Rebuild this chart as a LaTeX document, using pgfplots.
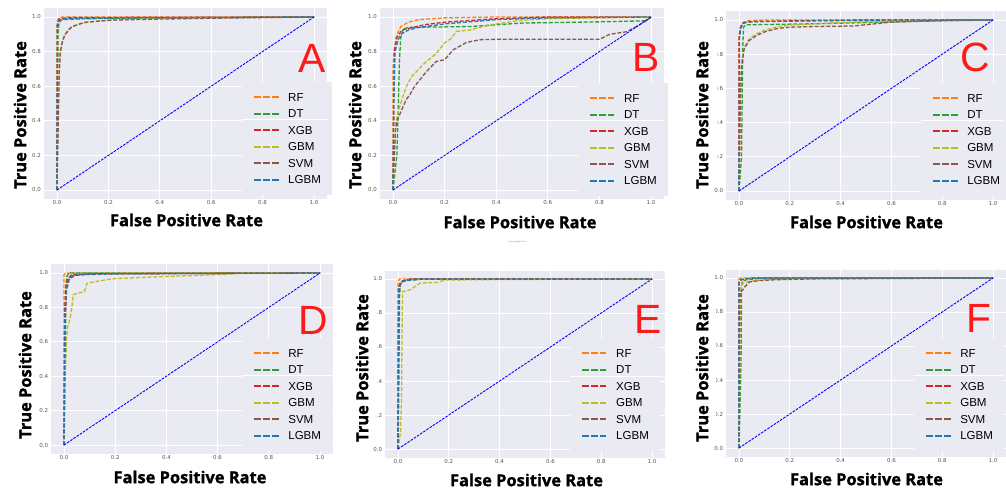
\documentclass[border=0pt]{standalone}
\usepackage{pgfplots}
\pgfplotsset{compat=1.18}
\usepackage{fontspec}
\newfontfamily\labfont{Open Sans}[BoldFeatures={FakeBold=1.3}]
\newfontfamily\legfont{Liberation Sans}
\newfontfamily\tickfont{DejaVu Sans}

\definecolor{cRF}{HTML}{FF7F0E}
\definecolor{cDT}{HTML}{2CA02C}
\definecolor{cXGB}{HTML}{D62728}
\definecolor{cGBM}{HTML}{BCBD22}
\definecolor{cSVM}{HTML}{8C564B}
\definecolor{cLGBM}{HTML}{1F77B4}
\definecolor{axbg}{HTML}{EAEAF2}
\definecolor{tickgray}{HTML}{555555}
\definecolor{letred}{HTML}{FF1A1A}

\pgfplotsset{
  roc/.style={
    scale only axis, anchor=origin,
    xmin=-0.05, xmax=1.05, ymin=-0.05, ymax=1.05,
    axis background/.style={fill=axbg},
    axis line style={draw=none},
    grid=major, major grid style={white, line width=0.9bp},
    major tick length=0pt,
    xtick={0,0.2,0.4,0.6,0.8,1}, ytick={0,0.2,0.4,0.6,0.8,1},
    ticklabel style={font=\tickfont\fontsize{5.5}{6}\selectfont, text=tickgray},
    xticklabel style={inner sep=0pt, yshift=-1.8bp},
    yticklabel style={inner sep=0pt, xshift=-3bp},
    /pgf/number format/.cd, fixed, fixed zerofill, precision=1, assume math mode=true,
    /pgfplots/.cd,
    legend entries={RF,DT,XGB,GBM,SVM,LGBM},
    legend cell align=left,
    legend style={anchor=north west, draw=none, fill=axbg,
      inner xsep=11bp, inner ysep=10.8bp, row sep=8.2bp,
      font=\legfont\fontsize{11.6}{12}\selectfont,
      nodes={inner sep=0pt, text height=8.3bp, text depth=0pt},
      /tikz/every odd column/.append style={column sep=8bp}},
    legend image code/.code={
      \draw[##1, line width=2bp, dash pattern=on 6.5bp off 2.4bp] (0bp,0bp) -- (25bp,0bp);},
  },
  crv/.style={line width=1.3bp, dash pattern=on 4bp off 1.8bp},
  rf/.style={crv, cRF}, dt/.style={crv, cDT}, xgb/.style={crv, cXGB},
  gbm/.style={crv, cGBM}, svm/.style={crv, cSVM}, lgbm/.style={crv, cLGBM},
  diag/.style={blue, line width=0.9bp, dash pattern=on 2.6bp off 1.2bp, forget plot},
}

\begin{document}
\begin{tikzpicture}
\useasboundingbox (0,0) rectangle (1006bp,-490bp);

% ---- A ----
\begin{axis}[roc, at={(57bp,-190bp)}, width=282.7bp, height=190.3bp,
  legend style={at={(axis description cs:0.700,0.613)}}]
\addplot[rf] coordinates {(0,0)(0,0.97)(0.005,0.99)(0.02,1)(1,1)};
\addplot[dt] coordinates {(0,0)(0.004,0.9)(0.008,0.97)(0.02,0.985)(0.1,0.99)(0.4,0.995)(1,1)};
\addplot[xgb] coordinates {(0,0)(0.002,0.96)(0.01,0.99)(0.05,0.997)(1,1)};
\addplot[gbm] coordinates {(0,0)(0.004,0.45)(0.008,0.7)(0.012,0.8)(0.02,0.86)(0.03,0.9)(0.045,0.93)(0.07,0.95)(0.1,0.965)(0.15,0.975)(0.25,0.985)(0.5,0.995)(1,1)};
\addplot[svm] coordinates {(0,0)(0.005,0.4)(0.009,0.68)(0.013,0.79)(0.02,0.85)(0.03,0.895)(0.057,0.944)(0.11,0.97)(0.21,0.982)(0.4,0.988)(0.7,0.995)(1,1)};
\addplot[lgbm] coordinates {(0,0)(0.001,0.95)(0.008,0.98)(0.03,0.99)(0.3,0.995)(1,1)};
\addplot[diag] coordinates {(0,0)(1,1)};
\end{axis}

% ---- B ----
\begin{axis}[roc, at={(393bp,-190bp)}, width=283.8bp, height=190.3bp,
  legend style={at={(axis description cs:0.697,0.608)}}]
\addplot[rf] coordinates {(0,0)(0,0.7)(0.005,0.82)(0.013,0.89)(0.03,0.945)(0.06,0.97)(0.1,0.985)(0.2,0.995)(0.4,1)(1,1)};
\addplot[dt] coordinates {(0,0)(0.015,0.2)(0.02,0.45)(0.025,0.75)(0.03,0.88)(0.04,0.93)(0.06,0.94)(0.3,0.945)(0.4,0.955)(0.5,0.965)(0.8,0.972)(0.98,0.978)(1,1)};
\addplot[xgb] coordinates {(0,0)(0.005,0.8)(0.015,0.88)(0.034,0.925)(0.078,0.94)(0.12,0.955)(0.2,0.97)(0.4,0.99)(0.6,1)(1,1)};
\addplot[gbm] coordinates {(0,0)(0.005,0.2)(0.01,0.38)(0.02,0.45)(0.04,0.55)(0.058,0.618)(0.075,0.66)(0.091,0.685)(0.12,0.73)(0.168,0.79)(0.2,0.85)(0.225,0.875)(0.246,0.917)(0.3,0.925)(0.324,0.936)(0.4,0.96)(0.49,0.98)(0.6,0.99)(0.8,0.995)(1,1)};
\addplot[svm] coordinates {(0,0)(0.005,0.2)(0.01,0.35)(0.015,0.4)(0.03,0.45)(0.05,0.52)(0.065,0.55)(0.084,0.6)(0.13,0.685)(0.168,0.743)(0.2,0.753)(0.233,0.81)(0.285,0.853)(0.337,0.869)(0.4,0.871)(0.8,0.871)(0.84,0.9)(0.906,0.915)(0.95,0.95)(0.983,0.98)(1,1)};
\addplot[lgbm] coordinates {(0,0)(0.003,0.5)(0.008,0.8)(0.02,0.87)(0.035,0.905)(0.06,0.925)(0.1,0.94)(0.2,0.96)(0.4,0.985)(0.6,0.995)(1,1)};
\addplot[diag] coordinates {(0,0)(1,1)};
\end{axis}

% ---- C ----
\begin{axis}[roc, at={(739bp,-191bp)}, width=279.4bp, height=188.1bp,
  legend style={at={(axis description cs:0.697,0.620)}}]
\addplot[rf] coordinates {(0,0)(0,0.9)(0.005,0.96)(0.015,0.985)(0.03,0.995)(0.1,1)(1,1)};
\addplot[dt] coordinates {(0,0)(0.01,0.2)(0.013,0.6)(0.015,0.85)(0.018,0.96)(0.03,0.972)(0.3,0.978)(0.5,0.985)(0.8,0.995)(1,1)};
\addplot[xgb] coordinates {(0,0)(0,0.88)(0.005,0.95)(0.015,0.98)(0.04,0.99)(0.2,0.995)(0.5,1)(1,1)};
\addplot[gbm] coordinates {(0,0)(0.005,0.5)(0.01,0.75)(0.02,0.84)(0.04,0.89)(0.07,0.92)(0.1,0.94)(0.15,0.96)(0.2,0.97)(0.3,0.978)(0.5,0.99)(0.7,0.995)(1,1)};
\addplot[svm] coordinates {(0,0)(0.005,0.5)(0.01,0.72)(0.02,0.83)(0.04,0.88)(0.07,0.91)(0.1,0.93)(0.15,0.95)(0.2,0.958)(0.3,0.962)(0.45,0.965)(0.55,0.98)(0.6,0.988)(0.85,1)(1,1)};
\addplot[lgbm] coordinates {(0,0)(0.002,0.9)(0.008,0.96)(0.02,0.985)(0.05,0.99)(0.3,0.995)(0.6,1)(1,1)};
\addplot[diag] coordinates {(0,0)(1,1)};
\end{axis}

% ---- D ----
\begin{axis}[roc, at={(64bp,-445bp)}, width=281.6bp, height=189.2bp,
  legend style={at={(axis description cs:0.678,0.611)}}]
\addplot[rf] coordinates {(0,0)(0,0.99)(0.005,1)(1,1)};
\addplot[dt] coordinates {(0,0)(0.005,0.5)(0.008,0.9)(0.01,0.98)(0.02,1)(1,1)};
\addplot[xgb] coordinates {(0,0)(0.003,0.8)(0.008,0.93)(0.015,0.97)(0.03,0.99)(0.1,0.995)(1,1)};
\addplot[gbm] coordinates {(0,0)(0.005,0.4)(0.01,0.62)(0.015,0.69)(0.023,0.73)(0.03,0.79)(0.036,0.874)(0.08,0.893)(0.09,0.94)(0.115,0.948)(0.19,0.967)(0.4,0.98)(0.5,0.985)(0.66,0.995)(0.7,1)(1,1)};
\addplot[svm] coordinates {(0,0)(0.005,0.75)(0.01,0.9)(0.02,0.96)(0.04,0.985)(0.1,0.995)(1,1)};
\addplot[lgbm] coordinates {(0,0)(0.003,0.7)(0.008,0.9)(0.015,0.96)(0.03,0.985)(0.06,0.99)(0.2,0.995)(1,1)};
\addplot[diag] coordinates {(0,0)(1,1)};
\end{axis}

% ---- E ----
\begin{axis}[roc, at={(398bp,-449bp)}, width=279.4bp, height=187bp,
  legend style={at={(axis description cs:0.661,0.639)}}]
\addplot[rf] coordinates {(0,0)(0,0.98)(0.005,1)(1,1)};
\addplot[dt] coordinates {(0,0)(0.003,0.3)(0.006,0.9)(0.01,0.98)(0.02,0.99)(0.1,1)(1,1)};
\addplot[xgb] coordinates {(0,0)(0.003,0.95)(0.01,0.98)(0.02,0.99)(0.05,1)(1,1)};
\addplot[gbm] coordinates {(0,0)(0.01,0.1)(0.014,0.3)(0.016,0.7)(0.018,0.925)(0.03,0.93)(0.049,0.937)(0.07,0.96)(0.088,0.976)(0.154,0.98)(0.186,0.994)(0.4,0.997)(1,1)};
\addplot[svm] coordinates {(0,0)(0.003,0.9)(0.01,0.97)(0.02,0.985)(0.05,1)(1,1)};
\addplot[lgbm] coordinates {(0,0)(0.002,0.95)(0.01,0.98)(0.03,0.99)(0.1,1)(1,1)};
\addplot[diag] coordinates {(0,0)(1,1)};
\end{axis}

% ---- F ----
\begin{axis}[roc, at={(739bp,-448bp)}, width=279.4bp, height=187bp,
  legend style={at={(axis description cs:0.672,0.634)}}]
\addplot[rf] coordinates {(0,0)(0,0.995)(0.005,1)(1,1)};
\addplot[dt] coordinates {(0,0)(0.008,0.5)(0.01,0.95)(0.013,0.98)(0.03,0.99)(0.1,1)(1,1)};
\addplot[xgb] coordinates {(0,0)(0,0.98)(0.01,0.99)(0.05,1)(1,1)};
\addplot[gbm] coordinates {(0,0)(0.005,0.9)(0.01,0.96)(0.02,0.97)(0.04,0.98)(0.1,0.99)(0.2,0.995)(1,1)};
\addplot[svm] coordinates {(0,0)(0.003,0.85)(0.005,0.918)(0.015,0.93)(0.022,0.947)(0.042,0.977)(0.08,0.985)(0.147,0.99)(0.3,0.995)(1,1)};
\addplot[lgbm] coordinates {(0,0)(0,0.97)(0.005,0.99)(0.05,1)(1,1)};
\addplot[diag] coordinates {(0,0)(1,1)};
\end{axis}

% white line inside each pasted legend
\begin{scope}[white, line width=0.9bp]
\foreach \xa/\xb/\y in {242/327/119.5, 578/663/120, 921/1003/120,
    242/333/375.5, 570/663/376, 914/1003/375.5}
  \draw (\xa bp,-\y bp) -- (\xb bp,-\y bp);
\end{scope}

% white boxes of the pasted y labels
\fill[white] (685bp,-28bp) rectangle (717bp,-185bp);
\fill[white] (345bp,-290bp) rectangle (377bp,-440bp);
\fill[white] (685bp,-290bp) rectangle (716bp,-440bp);

% axis titles
\tikzset{lab/.style={font=\labfont\bfseries\fontsize{16.5}{18}\selectfont, inner sep=0pt}}
\foreach \x/\y in {186.5/220, 520/222, 866.5/222, 190/477, 526.5/480, 866.5/479}
  \node[lab] at (\x bp,-\y bp) {False Positive Rate};
\foreach \x/\y in {20/115, 355/115, 702/115, 25/365, 362/368, 702/368}
  \node[lab, rotate=90] at (\x bp,-\y bp) {True Positive Rate};

% panel letters
\tikzset{let/.style={font=\legfont\fontsize{41}{44}\selectfont, text=letred, inner sep=0pt}}
\node[let] at (312.5bp,-58bp) {A};
\node[let] at (646.5bp,-57.5bp) {B};
\node[let] at (975.5bp,-57.5bp) {C};
\node[let] at (313bp,-320bp) {D};
\node[let] at (648bp,-319bp) {E};
\node[let] at (979bp,-318bp) {F};

\node[font=\legfont\fontsize{2}{2}\selectfont, text=gray] at (517bp,-242bp) {Your paragraph text};
\end{tikzpicture}
\end{document}
